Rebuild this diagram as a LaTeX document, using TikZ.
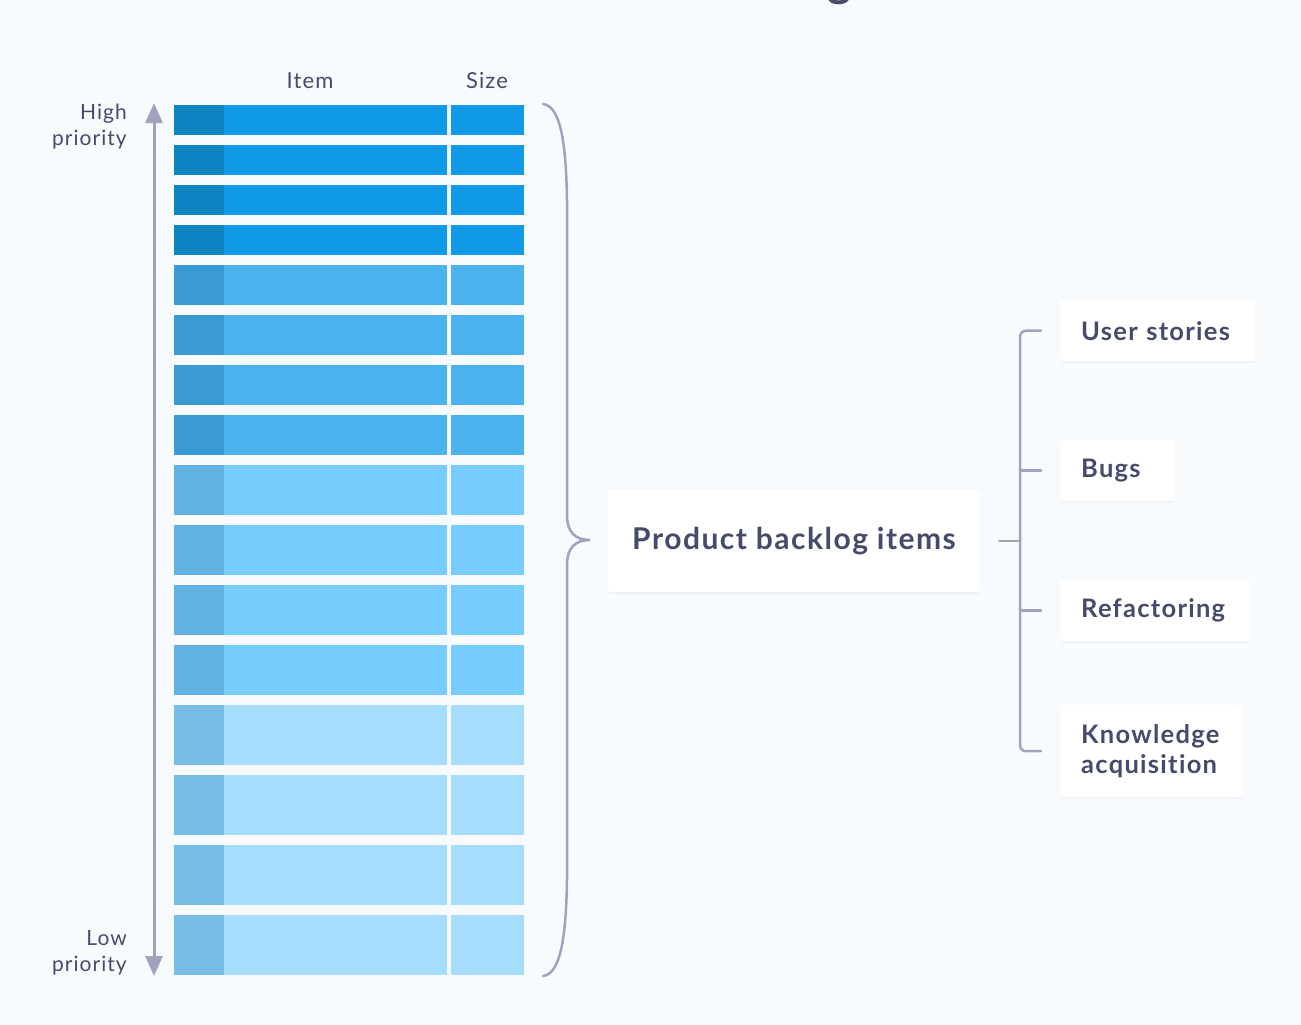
\documentclass[tikz,border=0pt]{standalone}
\usepackage{fontspec}
\setmainfont{Lato}[LetterSpace=5, Ligatures={NoCommon}]
\usetikzlibrary{shadows,arrows.meta}
\definecolor{bg}{HTML}{F8FBFE}
\definecolor{ink}{HTML}{464A6B}
\definecolor{linec}{HTML}{A2A2BC}
\definecolor{mainA}{HTML}{0E9AE6}
\definecolor{darkA}{HTML}{0C83C2}
\definecolor{mainB}{HTML}{4AB3EE}
\definecolor{darkB}{HTML}{3A9AD4}
\definecolor{mainC}{HTML}{77CDFD}
\definecolor{darkC}{HTML}{62B3E1}
\definecolor{mainD}{HTML}{A6DDFC}
\definecolor{darkD}{HTML}{77BDE5}
\begin{document}
\begin{tikzpicture}[x=1pt,y=-1pt,
  lbl/.style={font=\fontsize{21}{26}\selectfont, text=ink, inner sep=0},
  card/.style={fill=white, rounded corners=3,
    drop shadow={shadow xshift=0pt, shadow yshift=-2pt, opacity=0.07},
    text=ink, font=\fontsize{25.5}{30}\selectfont\bfseries, align=left,
    inner xsep=21, inner ysep=0, anchor=north west},
  conn/.style={draw=linec, line width=2.5, line cap=round},
]
\fill[bg] (0,0) rectangle (1301,1025);
\useasboundingbox (0,0) rectangle (1301,1025);

% cropped title
\begin{scope}
\clip (0,0) rectangle (1301,1025);
\node[font=\fontsize{46}{50}\selectfont\bfseries, text=ink, anchor=base, inner sep=0] (title) at (840,-3) {g};
\end{scope}

% column headers
\node[lbl, font=\fontsize{22}{26}\selectfont] (hitem) at (310,81) {Item};
\node[lbl, font=\fontsize{22}{26}\selectfont] (hsize) at (487,81) {Size};

% priority labels
\node[lbl, align=right, anchor=east] (high) at (127,127) {High\\priority};
\node[lbl, align=right, anchor=east] (low) at (127,953) {Low\\priority};

% priority arrow
\coordinate (atop) at (154,103);
\coordinate (abot) at (154,976);
\draw[linec, line width=3, {Triangle[length=20pt,width=17pt]}-{Triangle[length=20pt,width=17pt]}] (atop) -- (abot);

% bars
\foreach \ytop/\hh/\pp/\colm/\cold in {105/30/40/mainA/darkA, 265/40/50/mainB/darkB, 465/50/60/mainC/darkC, 705/60/70/mainD/darkD}{
  \foreach \k in {0,1,2,3}{
    \pgfmathsetmacro{\yt}{\ytop+\k*\pp}
    \pgfmathsetmacro{\yb}{\yt+\hh}
    \fill[\cold] (174,\yt) rectangle (224,\yb);
    \fill[\colm] (224,\yt) rectangle (447,\yb);
    \fill[\colm] (451,\yt) rectangle (524,\yb);
  }
}

% brace
\draw[linec, line width=2.5, line cap=round]
  (543,104) .. controls (560,106) and (566,140) .. (567,200)
  -- (567,515) .. controls (567,532) and (575,540) .. (590,540)
  .. controls (575,540) and (567,548) .. (567,565)
  -- (567,880) .. controls (566,940) and (560,974) .. (543,976);

% product backlog items
\node[fill=white, rounded corners=3,
    drop shadow={shadow xshift=0pt, shadow yshift=-2pt, opacity=0.07},
    text=ink, font=\fontsize{30}{36}\selectfont\bfseries,
    minimum width=372, minimum height=102, inner sep=0] (pbi) at (794,541) {Product backlog items};

% category cards
\node[card, text width=153, minimum height=61] (us) at (1060,300) {\mbox{User stories}};
\node[card, text width=73, minimum height=61] (bugs) at (1060,440) {\mbox{Bugs}};
\node[card, text width=148, minimum height=61] (ref) at (1060,580) {\mbox{Refactoring}};
\node[card, text width=140, minimum height=92] (ka) at (1060,705) {\mbox{Knowledge}\\\mbox{acquisition}};

% bracket
\coordinate (j) at (1020,541);
\draw[conn] ([xshift=19pt]pbi.east) -- (j);
\draw[conn, rounded corners=6] ([xshift=-19pt]us.west) -- (j |- us.west) -- (j |- ka.west) -- ([xshift=-19pt]ka.west);
\draw[conn] (j |- bugs.west) -- ([xshift=-19pt]bugs.west);
\draw[conn] (j |- ref.west) -- ([xshift=-19pt]ref.west);
\end{tikzpicture}
\end{document}
